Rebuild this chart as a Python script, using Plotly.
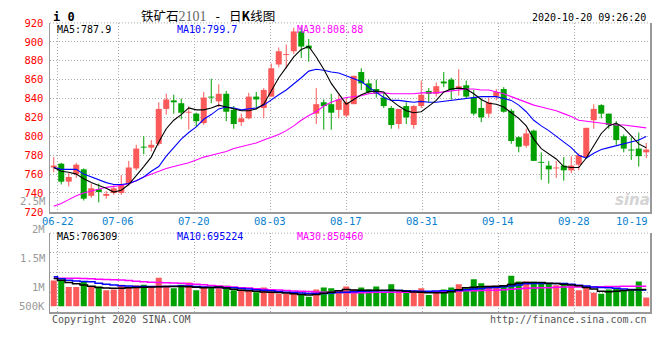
import plotly.graph_objects as go

# ---------------- data ----------------
dates = ["06-19", "06-22", "06-23", "06-24", "06-29", "06-30",
         "07-01", "07-02", "07-03", "07-06", "07-07", "07-08", "07-09", "07-10",
         "07-13", "07-14", "07-15", "07-16", "07-17", "07-20", "07-21", "07-22",
         "07-23", "07-24", "07-27", "07-28", "07-29", "07-30", "07-31",
         "08-03", "08-04", "08-05", "08-06", "08-07", "08-10", "08-11", "08-12",
         "08-13", "08-14", "08-17", "08-18", "08-19", "08-20", "08-21", "08-24",
         "08-25", "08-26", "08-27", "08-28", "08-31",
         "09-01", "09-02", "09-03", "09-04", "09-07", "09-08", "09-09", "09-10",
         "09-11", "09-14", "09-15", "09-16", "09-17", "09-18", "09-21", "09-22",
         "09-23", "09-24", "09-25", "09-28", "09-29", "09-30",
         "10-09", "10-12", "10-13", "10-14", "10-15", "10-16", "10-19", "10-20"]

opens = [767, 771, 752, 760, 765, 737, 744, 737, 740, 740,
         750, 766, 789, 788, 792, 829, 838, 835, 825, 824,
         814, 842, 837, 845, 828, 815, 819, 842, 830, 842,
         876, 886, 890, 911, 896, 824, 836, 834, 828, 822,
         834, 868, 856, 850, 841, 830, 813, 832, 812, 832,
         848, 845, 858, 860, 850, 854, 841, 830, 824, 842,
         850, 827, 799, 790, 806, 773, 769, 766, 769, 764,
         770, 778, 817, 833, 824, 813, 800, 786, 787, 783]
highs = [778, 772, 761, 772, 766, 750, 750, 742, 748, 759,
         774, 791, 800, 796, 836, 845, 844, 840, 832, 825,
         847, 861, 855, 848, 832, 824, 846, 847, 851, 877,
         894, 897, 915, 915, 903, 851, 839, 845, 844, 840,
         864, 872, 860, 860, 846, 832, 829, 836, 833, 859,
         851, 857, 868, 862, 871, 859, 849, 840, 841, 850,
         852, 829, 800, 808, 807, 783, 774, 774, 778, 779,
         782, 809, 834, 834, 824, 816, 802, 799, 804, 793]
lows = [762, 749, 747, 756, 732, 735, 730, 734, 738, 738,
        748, 764, 781, 784, 790, 823, 824, 818, 807, 810,
        812, 835, 831, 816, 808, 811, 818, 830, 819, 842,
        873, 872, 887, 883, 879, 813, 807, 807, 819, 820,
        834, 849, 845, 841, 830, 808, 808, 813, 808, 830,
        836, 842, 852, 839, 843, 840, 822, 815, 820, 838,
        825, 792, 783, 788, 774, 754, 750, 756, 753, 761,
        764, 778, 808, 819, 808, 791, 783, 775, 768, 777]
closes = [769, 752, 757, 770, 734, 745, 741, 739, 745, 749,
          767, 787, 788, 791, 829, 839, 836, 825, 826, 816,
          841, 841, 845, 826, 813, 819, 842, 839, 849, 872,
          890, 887, 911, 895, 893, 834, 832, 825, 839, 836,
          864, 856, 847, 845, 832, 812, 829, 820, 832, 844,
          845, 853, 856, 849, 853, 842, 824, 820, 836, 847,
          826, 795, 789, 803, 774, 772, 765, 767, 764, 769,
          780, 809, 829, 824, 812, 796, 787, 785, 779, 786]

ma5 = [767, 763, 762, 760, 755, 751, 748, 745, 741, 743,
       749, 758, 768, 778, 794, 808, 817, 823, 830, 828,
       828, 830, 833, 831, 829, 827, 827, 829, 834, 848,
       862, 873, 884, 892, 895, 884, 871, 856, 845, 834,
       839, 844, 847, 848, 847, 838, 832, 827, 825, 826,
       832, 838, 847, 850, 851, 850, 845, 839, 835, 834,
       831, 825, 819, 811, 797, 787, 781, 776, 768, 767,
       767, 777, 790, 803, 811, 814, 809, 800, 792, 787.9]
ma10 = [767, 765, 765, 765, 760, 757, 754, 751, 749, 749,
        750, 753, 757, 763, 768, 779, 788, 797, 804, 810,
        818, 823, 829, 831, 830, 828, 829, 830, 833, 839,
        844, 849, 855, 862, 869, 871, 870, 868, 867, 864,
        861, 858, 852, 846, 841, 838, 838, 837, 836, 837,
        836, 836, 837, 838, 839, 840, 841, 842, 842, 842,
        840, 838, 833, 826, 817, 811, 806, 800, 794, 788,
        780, 777, 782, 786, 788, 790, 792, 794, 796, 799.7]
ma30 = [726, 729, 733, 737, 740, 742, 744, 746, 747, 748,
        750, 753, 757, 760, 763, 766, 768, 770, 772, 775,
        778, 780, 782, 784, 787, 789, 791, 793, 796, 799,
        802, 806, 811, 817, 822, 826, 832, 836, 839, 841,
        842, 843, 845, 846, 846, 845, 845, 845, 845, 846,
        846, 846, 847, 848, 849, 850, 850, 849, 849, 847,
        845, 842, 839, 836, 833, 831, 829, 827, 824, 821,
        817, 816, 815, 814, 813, 812, 812, 811, 810, 808.88]

volumes = [1090000, 1120000, 820000, 820000, 1050000, 820000, 840000, 680000, 710000, 910000,
           840000, 890000, 910000, 820000, 1210000, 870000, 760000, 910000, 1010000, 680000,
           840000, 800000, 780000, 870000, 680000, 710000, 670000, 600000, 800000, 640000,
           530000, 530000, 570000, 530000, 400000, 710000, 800000, 760000, 680000, 840000,
           710000, 800000, 710000, 840000, 570000, 930000, 680000, 680000, 680000, 760000,
           480000, 570000, 710000, 800000, 930000, 760000, 1140000, 970000, 870000, 870000,
           870000, 1290000, 1050000, 1050000, 1040000, 1010000, 960000, 890000, 930000, 870000,
           680000, 870000, 570000, 530000, 710000, 760000, 680000, 680000, 1050000, 370000]
vol_ma5 = [1180000, 1100000, 1010000, 950000, 900000, 850000, 800000, 770000, 760000, 760000,
           780000, 800000, 810000, 820000, 830000, 840000, 840000, 840000, 830000, 810000,
           790000, 800000, 820000, 770000, 720000, 680000, 660000, 640000, 610000, 600000,
           580000, 560000, 530000, 500000, 480000, 500000, 550000, 600000, 660000, 710000,
           690000, 680000, 680000, 680000, 680000, 680000, 670000, 640000, 610000, 590000,
           570000, 570000, 570000, 620000, 700000, 780000, 810000, 830000, 840000, 850000,
           870000, 920000, 970000, 1010000, 1010000, 1010000, 980000, 960000, 930000, 900000,
           870000, 800000, 730000, 640000, 620000, 640000, 670000, 690000, 700000, 706309]
vol_ma10 = [1250000, 1160000, 1100000, 1070000, 1050000, 1040000, 970000, 930000, 900000, 870000,
            860000, 840000, 840000, 840000, 840000, 840000, 850000, 860000, 860000, 840000,
            820000, 810000, 800000, 790000, 780000, 750000, 730000, 700000, 680000, 660000,
            630000, 600000, 580000, 560000, 540000, 540000, 540000, 560000, 580000, 600000,
            620000, 640000, 650000, 660000, 660000, 670000, 670000, 660000, 650000, 640000,
            640000, 650000, 660000, 660000, 670000, 700000, 730000, 750000, 780000, 800000,
            830000, 860000, 900000, 950000, 960000, 960000, 960000, 960000, 960000, 930000,
            890000, 860000, 820000, 800000, 780000, 760000, 730000, 710000, 700000, 695224]
vol_ma30 = [1190000, 1190000, 1190000, 1190000, 1180000, 1160000, 1140000, 1130000, 1120000, 1110000,
            1090000, 1060000, 1040000, 1020000, 1010000, 1000000, 990000, 970000, 950000, 930000,
            910000, 880000, 860000, 840000, 820000, 790000, 770000, 740000, 720000, 700000,
            690000, 670000, 650000, 640000, 630000, 610000, 600000, 600000, 590000, 580000,
            570000, 570000, 580000, 590000, 590000, 600000, 600000, 600000, 610000, 610000,
            610000, 620000, 630000, 640000, 650000, 660000, 660000, 670000, 680000, 680000,
            700000, 720000, 740000, 760000, 770000, 780000, 790000, 810000, 820000, 820000,
            820000, 820000, 820000, 830000, 840000, 840000, 850000, 850000, 850000, 850460]

label_dates = ["06-22", "07-06", "07-20", "08-03", "08-17", "08-31", "09-14", "09-28", "10-19"]
price_ticks = [720, 740, 760, 780, 800, 820, 840, 860, 880, 900, 920]
vol_axis_labels = ["2.5M", "2M", "1.5M", "1M", "500K"]

# ---------------- layout geometry (pixels) ----------------
W, H = 660, 360
PL, PR = 50, 650
P_TOP, P_BOT = 17.5, 213
V_TOP, V_BOT = 235, 317
vol_label_y = [201.5, 231, 261, 291, 310]
PX_PER_UNIT_VOL = 24.5 / 1e6      # pixels per traded lot
VOL_BASE_Y = 310.7

RED = "#fa5a5a"
GREEN = "#00a000"
GRID = "#aaaaaa"
BORDER = "#999999"
MONO = "DejaVu Sans Mono"

n = len(dates)
xs = list(range(n))
is_up = [c >= o for o, c in zip(opens, closes)]
colors = [RED if u else GREEN for u in is_up]


def py(p):
    return 1 - p / H


def px(p):
    return p / W


fig = go.Figure()

# candle bodies
fig.add_trace(go.Bar(
    x=xs, y=[max(abs(c - o), 0.9) for o, c in zip(opens, closes)],
    base=[min(o, c) for o, c in zip(opens, closes)],
    width=0.8, marker=dict(color=colors, line=dict(width=0)),
    xaxis="x", yaxis="y", hoverinfo="skip", showlegend=False))

# wicks
for want_up, col in [(True, RED), (False, GREEN)]:
    wx, wy = [], []
    for i in range(n):
        if is_up[i] == want_up:
            wx += [i, i, None]
            wy += [lows[i], highs[i], None]
    fig.add_trace(go.Scatter(x=wx, y=wy, mode="lines", line=dict(color=col, width=1),
                             xaxis="x", yaxis="y", hoverinfo="skip", showlegend=False))

# moving averages (price)
for arr, col in [(ma30, "#ff00ff"), (ma10, "#0000ff"), (ma5, "#000000")]:
    fig.add_trace(go.Scatter(x=xs, y=arr, mode="lines", line=dict(color=col, width=1.1),
                             xaxis="x", yaxis="y", hoverinfo="skip", showlegend=False))

# volume bars
fig.add_trace(go.Bar(x=xs, y=volumes, width=0.8, marker=dict(color=colors, line=dict(width=0)),
                     xaxis="x2", yaxis="y2", hoverinfo="skip", showlegend=False))
for arr, col in [(vol_ma30, "#ff00ff"), (vol_ma10, "#0000ff"), (vol_ma5, "#000000")]:
    fig.add_trace(go.Scatter(x=xs, y=arr, mode="lines", line=dict(color=col, width=1.5, shape="hvh"),
                             xaxis="x2", yaxis="y2", hoverinfo="skip", showlegend=False))

# date grid positions (Sina spaces its date grid over n-1 slots)
slot = n / (n - 1)
grid_pos = [dates.index(d) * slot - 0.5 for d in label_dates[:-1]]

vol_min = -(V_BOT - VOL_BASE_Y) / PX_PER_UNIT_VOL
vol_max = (VOL_BASE_Y - V_TOP) / PX_PER_UNIT_VOL
vol_grid = [(VOL_BASE_Y - yy) / PX_PER_UNIT_VOL for yy in (255, 275.5, 296)]

common_x = dict(range=[-0.5, n - 0.5], domain=[px(PL), px(PR)], showticklabels=False,
                tickvals=grid_pos, ticks="", showgrid=True, gridcolor=GRID, gridwidth=1,
                griddash="1px,2px", zeroline=False, showline=True, linecolor=BORDER,
                linewidth=2, fixedrange=True)

fig.update_layout(
    width=W, height=H, autosize=False,
    margin=dict(l=0, r=0, t=0, b=0),
    paper_bgcolor="white", plot_bgcolor="white",
    barmode="overlay", showlegend=False,
    xaxis=dict(anchor="y", **common_x),
    xaxis2=dict(anchor="y2", **common_x),
    yaxis=dict(domain=[py(P_BOT), py(P_TOP)], range=[720, 920], tickvals=price_ticks,
               ticks="", ticklabelstandoff=3,
               tickfont=dict(family=MONO, size=10.5, color="#ff0000"),
               showgrid=True, gridcolor=GRID, gridwidth=1, griddash="1px,2px",
               zeroline=False, showline=True, linecolor=BORDER, linewidth=1.5, mirror=True),
    yaxis2=dict(domain=[py(V_BOT), py(V_TOP)], range=[vol_min, vol_max], tickvals=vol_grid,
                showticklabels=False, ticks="",
                showgrid=True, gridcolor=GRID, gridwidth=1, griddash="1px,2px",
                zeroline=False, showline=True, linecolor=BORDER, linewidth=1.5, mirror=True),
)

shapes = []
for yy in (P_TOP, V_TOP):
    shapes.append(dict(type="line", xref="paper", yref="paper", x0=px(PL), x1=px(PR),
                       y0=py(yy), y1=py(yy), line=dict(color=GRID, width=1, dash="1px,2px")))
fig.update_layout(shapes=shapes)

ann = []


def text(x, y, s, color="#000", size=10, family=MONO, anchor="left", xref="paper"):
    ann.append(dict(x=x, y=y, xref=xref, yref="paper", text=s, showarrow=False,
                    xanchor=anchor, yanchor="middle",
                    font=dict(family=family, size=size, color=color)))


text(px(51), py(11.5), "<b>i 0</b>", size=12)
title = ('<span style="font-family:Noto Sans CJK SC">铁矿石</span>'
         '<span style="font-family:Liberation Serif;color:#666;font-size:14px">2101</span>'
         '<span style="font-family:DejaVu Sans Mono"> - </span>'
         '<span style="font-family:Noto Sans CJK SC">日<b>K</b>线图</span>')
text(px(139), py(10), title, size=12.5, family="Noto Sans CJK SC")
text(px(648), py(11.5), "2020-10-20 09:26:20", size=10, anchor="right")

text(px(55), py(24.5), f"MA5:{ma5[-1]}", color="#000000")
text(px(175), py(24.5), f"MA10:{ma10[-1]}", color="#0000ff")
text(px(295), py(24.5), f"MA30:{ma30[-1]}", color="#ff00ff")
text(px(55), py(238.5), f"MA5:{vol_ma5[-1]}", color="#000000")
text(px(175), py(238.5), f"MA10:{vol_ma10[-1]}", color="#0000ff")
text(px(295), py(238.5), f"MA30:{vol_ma30[-1]}", color="#ff00ff")

for lab, yy in zip(vol_axis_labels, vol_label_y):
    text(px(46.5), py(yy), lab, color="#999999", anchor="right", size=10.5)

for d in label_dates:
    k = dates.index(d)
    if d == label_dates[-1]:
        text(n - 0.5, py(222), d, color="#0a7fd0", anchor="right", xref="x", size=10.5)
    else:
        text(k * slot - 0.5, py(222), d, color="#0a7fd0", anchor="center", xref="x", size=10.5)

text(px(50), py(324), "Copyright 2020 SINA.COM", color="#555555", size=10)
text(px(649), py(324), "http://finance.sina.com.cn", color="#555555", anchor="right", size=10)
text(px(652), py(201), "<b><i>sina</i></b>", color="#d4d4d4", anchor="right", size=15,
     family="DejaVu Sans")

fig.update_layout(annotations=ann)
fig.write_html("out.html",
               config={"displayModeBar": False, "staticPlot": True},
               post_script="document.body.style.margin='0';document.body.style.overflow='hidden';")
